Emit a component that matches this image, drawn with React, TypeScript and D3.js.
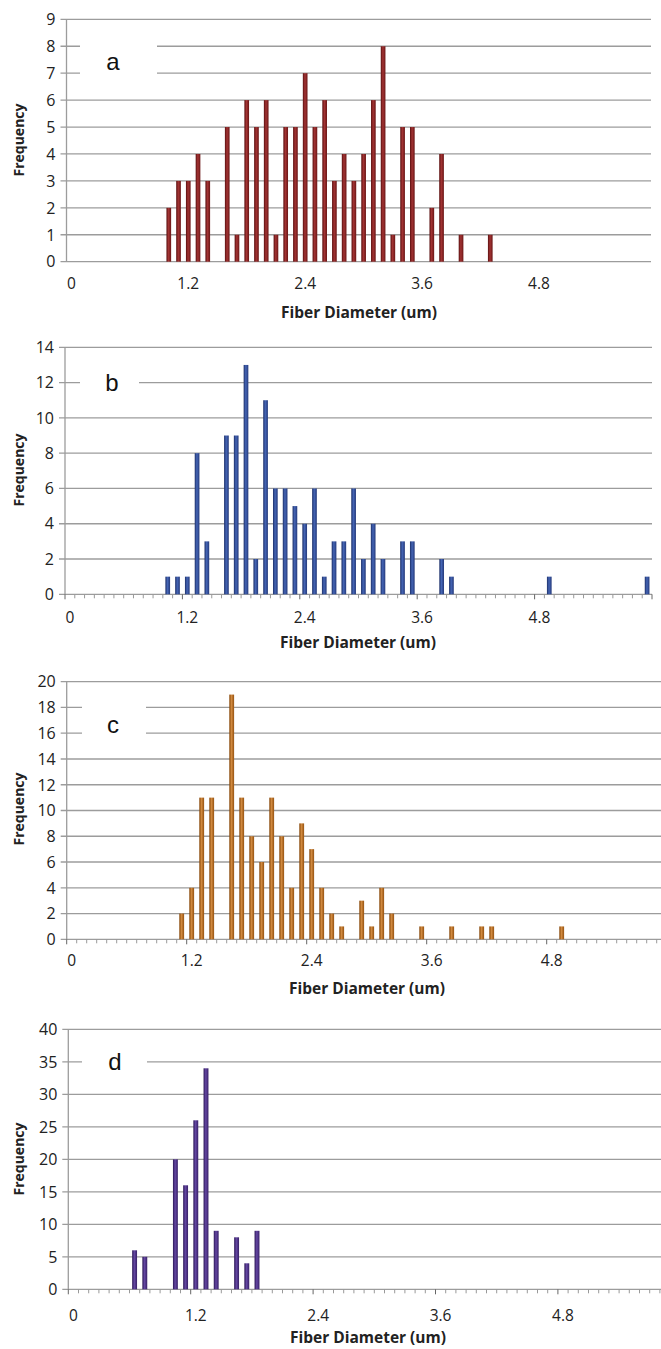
import React from "react";
import * as d3 from "d3";

// Categories: fiber diameter bins 0.0 .. 5.9 (um)
const categories: string[] = d3.range(60).map((i) => (i / 10).toFixed(1));
const xTickLabels = ["0", "1.2", "2.4", "3.6", "4.8"];

// Panel a
const binsA = [1.0, 1.1, 1.2, 1.3, 1.4, 1.6, 1.7, 1.8, 1.9, 2.0, 2.1, 2.2, 2.3, 2.4, 2.5, 2.6, 2.7, 2.8, 2.9, 3.0, 3.1, 3.2, 3.3, 3.4, 3.5, 3.7, 3.8, 4.0, 4.3];
const freqA = [2, 3, 3, 4, 3, 5, 1, 6, 5, 6, 1, 5, 5, 7, 5, 6, 3, 4, 3, 4, 6, 8, 1, 5, 5, 2, 4, 1, 1];
const yTicksA = [0, 1, 2, 3, 4, 5, 6, 7, 8, 9];

// Panel b
const binsB = [1.0, 1.1, 1.2, 1.3, 1.4, 1.6, 1.7, 1.8, 1.9, 2.0, 2.1, 2.2, 2.3, 2.4, 2.5, 2.6, 2.7, 2.8, 2.9, 3.0, 3.1, 3.2, 3.4, 3.5, 3.8, 3.9, 4.9, 5.9];
const freqB = [1, 1, 1, 8, 3, 9, 9, 13, 2, 11, 6, 6, 5, 4, 6, 1, 3, 3, 6, 2, 4, 2, 3, 3, 2, 1, 1, 1];
const yTicksB = [0, 2, 4, 6, 8, 10, 12, 14];

// Panel c
const binsC = [1.1, 1.2, 1.3, 1.4, 1.6, 1.7, 1.8, 1.9, 2.0, 2.1, 2.2, 2.3, 2.4, 2.5, 2.6, 2.7, 2.9, 3.0, 3.1, 3.2, 3.5, 3.8, 4.1, 4.2, 4.9];
const freqC = [2, 4, 11, 11, 19, 11, 8, 6, 11, 8, 4, 9, 7, 4, 2, 1, 3, 1, 4, 2, 1, 1, 1, 1, 1];
const yTicksC = [0, 2, 4, 6, 8, 10, 12, 14, 16, 18, 20];

// Panel d
const binsD = [0.6, 0.7, 1.0, 1.1, 1.2, 1.3, 1.4, 1.6, 1.7, 1.8];
const freqD = [6, 5, 20, 16, 26, 34, 9, 8, 4, 9];
const yTicksD = [0, 5, 10, 15, 20, 25, 30, 35, 40];

type Panel = {
  id: string;
  letter: string;
  bins: number[];
  freq: number[];
  yTicks: number[];
  left: number;
  right: number;
  top: number;
  bottom: number;
  xMinorTicks: boolean;
  colors: [string, string, string];
  box: [number, number, number, number]; // x0, x1, y0, y1
  letterX: number;
  letterY: number;
  labelY: number;
  titleY: number;
  titleX: number;
  freqY: number;
};

const panels: Panel[] = [
  {
    id: "a", letter: "a", bins: binsA, freq: freqA, yTicks: yTicksA,
    left: 66.5, right: 651, top: 19.3, bottom: 261.7, xMinorTicks: false,
    colors: ["#5a0f0f", "#a33434", "#6a1515"],
    box: [80, 157, 38, 82], letterX: 113, letterY: 70, labelY: 283, titleY: 312, titleX: 359, freqY: 140,
  },
  {
    id: "b", letter: "b", bins: binsB, freq: freqB, yTicks: yTicksB,
    left: 65, right: 652, top: 347.3, bottom: 594.3, xMinorTicks: true,
    colors: ["#1c2f68", "#4565b5", "#24397a"],
    box: [80, 139, 368, 398], letterX: 112, letterY: 391, labelY: 617, titleY: 642, titleX: 358, freqY: 470,
  },
  {
    id: "c", letter: "c", bins: binsC, freq: freqC, yTicks: yTicksC,
    left: 66.7, right: 666.7, top: 681.7, bottom: 939.3, xMinorTicks: true,
    colors: ["#844405", "#d0893f", "#96520f"],
    box: [82, 146, 700, 750], letterX: 113, letterY: 733, labelY: 960, titleY: 988, titleX: 367, freqY: 809,
  },
  {
    id: "d", letter: "d", bins: binsD, freq: freqD, yTicks: yTicksD,
    left: 68.3, right: 680.3, top: 1029.3, bottom: 1289.3, xMinorTicks: true,
    colors: ["#2c1756", "#6447a3", "#371f66"],
    box: [82, 147, 1048, 1080], letterX: 115, letterY: 1070, labelY: 1315, titleY: 1337, titleX: 368, freqY: 1159,
  },
];

const font = "'Open Sans', 'Noto Sans', sans-serif";
const gridColor = "#9c9c9c";

function PanelChart({ p }: { p: Panel }) {
  const x = d3.scaleBand<string>().domain(categories).range([p.left, p.right]).paddingInner(0.52).paddingOuter(0.26);
  const xc = d3.scaleBand<string>().domain(categories).range([p.left, p.right]);
  const yMax = p.yTicks[p.yTicks.length - 1];
  const y = d3.scaleLinear().domain([0, yMax]).range([p.bottom, p.top]);
  const gradId = `grad-${p.id}`;
  const step = xc.bandwidth();
  const labelIdx = xTickLabels.map((l) => Math.round(parseFloat(l) * 10));
  return (
    <g>
      <defs>
        <linearGradient id={gradId} x1="0" x2="1" y1="0" y2="0">
          <stop offset="0%" stopColor={p.colors[0]} />
          <stop offset="45%" stopColor={p.colors[1]} />
          <stop offset="100%" stopColor={p.colors[2]} />
        </linearGradient>
      </defs>
      {/* gridlines */}
      {p.yTicks.map((t) => (
        <line key={t} x1={p.left - 6} x2={p.right} y1={y(t)} y2={y(t)} stroke={gridColor} strokeWidth={1.3} />
      ))}
      {/* y axis */}
      <line x1={p.left} x2={p.left} y1={p.top} y2={p.bottom} stroke={gridColor} strokeWidth={1.3} />
      {/* x minor ticks */}
      {p.xMinorTicks &&
        d3.range(61).map((i) => {
          const xx = p.left + i * step;
          const major = i % 12 === 0;
          return (
            <line key={i} x1={xx} x2={xx} y1={p.bottom} y2={p.bottom + (major ? 5 : 4)} stroke={major ? "#666" : "#999"} strokeWidth={1} />
          );
        })}
      {/* white label box */}
      <rect x={p.box[0]} y={p.box[2]} width={p.box[1] - p.box[0]} height={p.box[3] - p.box[2]} fill="#fff" />
      <text x={p.letterX} y={p.letterY} fontFamily="'Liberation Sans', Arial, sans-serif" fontSize={24} textAnchor="middle" fill="#111">
        {p.letter}
      </text>
      {/* bars */}
      {p.bins.map((b, i) => {
        const key = b.toFixed(1);
        const bx = x(key)!;
        return (
          <rect key={key} x={bx} y={y(p.freq[i])} width={x.bandwidth()} height={p.bottom - y(p.freq[i])} fill={`url(#${gradId})`} />
        );
      })}
      {/* y tick labels */}
      {p.yTicks.map((t) => (
        <text key={t} x={p.left - 11} y={y(t)} dy="0.36em" textAnchor="end" fontFamily={font} fontSize={16} fill="#222">
          {t}
        </text>
      ))}
      {/* x tick labels */}
      {xTickLabels.map((l, i) => (
        <text key={l} x={xc(categories[labelIdx[i]])! + step / 2} y={p.labelY} dy="0.36em" textAnchor="middle" fontFamily={font} fontSize={15.5} fill="#222">
          {l}
        </text>
      ))}
      {/* axis titles */}
      <text x={p.titleX} y={p.titleY} dy="0.36em" textAnchor="middle" fontFamily={font} fontSize={15.5} fontWeight={700} fill="#222">
        Fiber Diameter (um)
      </text>
      <text transform={`translate(19,${p.freqY}) rotate(-90)`} dy="0.36em" textAnchor="middle" fontFamily={font} fontSize={14} fontWeight={700} fill="#222">
        Frequency
      </text>
    </g>
  );
}

export default function App() {
  return (
    <svg width={661} height={1349} style={{ position: "absolute", left: 0, top: 0, background: "#fff" }}>
      <rect x={0} y={0} width={661} height={1349} fill="#fff" />
      {panels.map((p) => (
        <PanelChart key={p.id} p={p} />
      ))}
    </svg>
  );
}
